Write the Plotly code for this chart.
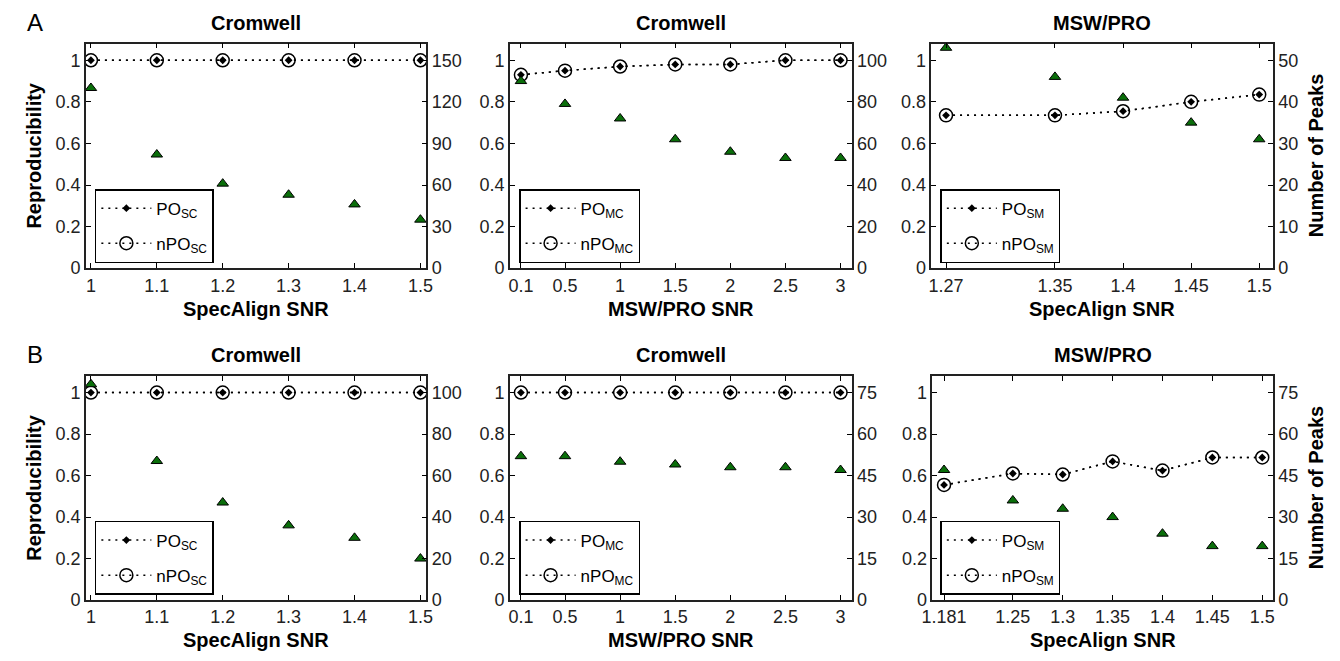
import plotly.graph_objects as go

# ---------------- data ----------------
A1_x = [1, 1.1, 1.2, 1.3, 1.4, 1.5]
A1_po = [1, 1, 1, 1, 1, 1]
A1_npo = [1, 1, 1, 1, 1, 1]
A1_peaks = [130, 82, 61, 53, 46, 35]

A2_x = [0.1, 0.5, 1, 1.5, 2, 2.5, 3]
A2_po = [0.93, 0.95, 0.97, 0.98, 0.98, 1.0, 1.0]
A2_npo = [0.93, 0.95, 0.97, 0.98, 0.98, 1.0, 1.0]
A2_peaks = [90, 79, 72, 62, 56, 53, 53]

A3_x = [1.27, 1.35, 1.4, 1.45, 1.5]
A3_po = [0.735, 0.735, 0.755, 0.80, 0.835]
A3_npo = [0.735, 0.735, 0.755, 0.80, 0.835]
A3_peaks = [53, 46, 41, 35, 31]

B1_x = [1, 1.1, 1.2, 1.3, 1.4, 1.5]
B1_po = [1, 1, 1, 1, 1, 1]
B1_npo = [1, 1, 1, 1, 1, 1]
B1_peaks = [104, 67, 47, 36, 30, 20]

B2_x = [0.1, 0.5, 1, 1.5, 2, 2.5, 3]
B2_po = [1, 1, 1, 1, 1, 1, 1]
B2_npo = [1, 1, 1, 1, 1, 1, 1]
B2_peaks = [52, 52, 50, 49, 48, 48, 47]

B3_x = [1.181, 1.25, 1.3, 1.35, 1.4, 1.45, 1.5]
B3_po = [0.555, 0.61, 0.605, 0.668, 0.624, 0.687, 0.687]
B3_npo = [0.555, 0.61, 0.605, 0.668, 0.624, 0.687, 0.687]
B3_peaks = [47, 36, 33, 30, 24, 19.5, 19.5]

A1_xticks = ["1", "1.1", "1.2", "1.3", "1.4", "1.5"]
A2_xticks = ["0.1", "0.5", "1", "1.5", "2", "2.5", "3"]
A3_xticks = ["1.27", "1.35", "1.4", "1.45", "1.5"]
B3_xticks = ["1.181", "1.25", "1.3", "1.35", "1.4", "1.45", "1.5"]

left_ticks = [0, 0.2, 0.4, 0.6, 0.8, 1]
left_ticktext = ["0", "0.2", "0.4", "0.6", "0.8", "1"]

right_A1 = [0, 30, 60, 90, 120, 150]
right_A2 = [0, 20, 40, 60, 80, 100]
right_A3 = [0, 10, 20, 30, 40, 50]
right_B1 = [0, 20, 40, 60, 80, 100]
right_B2 = [0, 15, 30, 45, 60, 75]
right_B3 = [0, 15, 30, 45, 60, 75]

titles = ["Cromwell", "Cromwell", "MSW/PRO", "Cromwell", "Cromwell", "MSW/PRO"]
xtitles = ["SpecAlign SNR", "MSW/PRO SNR", "SpecAlign SNR",
           "SpecAlign SNR", "MSW/PRO SNR", "SpecAlign SNR"]
subs = ["SC", "MC", "SM", "SC", "MC", "SM"]

panels = [
    (A1_x, A1_po, A1_npo, A1_peaks, A1_xticks, right_A1),
    (A2_x, A2_po, A2_npo, A2_peaks, A2_xticks, right_A2),
    (A3_x, A3_po, A3_npo, A3_peaks, A3_xticks, right_A3),
    (B1_x, B1_po, B1_npo, B1_peaks, A1_xticks, right_B1),
    (B2_x, B2_po, B2_npo, B2_peaks, A2_xticks, right_B2),
    (B3_x, B3_po, B3_npo, B3_peaks, B3_xticks, right_B3),
]

# ---------------- layout geometry ----------------
W, H = 1340, 661
xdom_px = [(76, 421), (505.7, 852), (933, 1279),
           (76, 421), (505.7, 852), (934, 1279)]
ydom_px = [(44.3, 272.3)] * 3 + [(381.7, 609.3)] * 3
xranges = [[0.9925, 1.509], [0.0, 3.1], [1.2593, 1.510],
           [0.9925, 1.509], [0.0, 3.1], [1.1694, 1.5106]]
legend_px = [(85, 192), (515, 192), (942, 192),
             (85, 529), (515, 529), (942, 529)]
YMAX = 1.08

FONT = "Liberation Sans, Arial, Helvetica, sans-serif"
DOT = "2px,5px"

fig = go.Figure()
layout = {}
annotations = []

for k, (xs, po, npo, peaks, xt, rt) in enumerate(panels):
    xa = "x" if k == 0 else f"x{k+1}"
    yl = "y" if k == 0 else f"y{2*k+1}"
    yr = f"y{2*k+2}"
    leg = "legend" if k == 0 else f"legend{k+1}"

    fig.add_trace(go.Scatter(
        x=xs, y=peaks, xaxis=xa, yaxis=yr, mode="markers",
        marker=dict(symbol="triangle-up", size=10, color="#0a6e0a",
                    line=dict(color="black", width=1)),
        showlegend=False, legend=leg))
    fig.add_trace(go.Scatter(
        x=xs, y=po, xaxis=xa, yaxis=yl, mode="lines+markers",
        name=f"PO<sub>{subs[k]}</sub>", legend=leg, legendgroup=f"po{k}",
        line=dict(color="black", width=1.5, dash=DOT),
        marker=dict(symbol="diamond", size=6, color="black")))
    fig.add_trace(go.Scatter(
        x=xs, y=npo, xaxis=xa, yaxis=yl, mode="lines+markers",
        name=f"nPO<sub>{subs[k]}</sub>", legend=leg, legendgroup=f"npo{k}",
        line=dict(color="black", width=1.5, dash=DOT),
        marker=dict(symbol="circle-open", size=13, color="black",
                    line=dict(width=1.5))))

    x0, x1 = xdom_px[k]
    t, b = ydom_px[k]
    xdom = [x0 / W, x1 / W]
    ydom = [1 - b / H, 1 - t / H]
    tickfont = dict(family=FONT, size=18, color="#222")

    layout["xaxis" if k == 0 else f"xaxis{k+1}"] = dict(
        domain=xdom, anchor=yl, range=xranges[k],
        tickvals=xs, ticktext=xt, ticks="inside", ticklen=5,
        tickcolor="black", tickwidth=1, showline=True, linecolor="#222",
        linewidth=1.5, mirror="ticks", showgrid=False, zeroline=False,
        tickfont=tickfont)
    layout["yaxis" if k == 0 else f"yaxis{2*k+1}"] = dict(
        domain=ydom, anchor=xa, range=[0, YMAX],
        tickvals=left_ticks, ticktext=left_ticktext, ticks="inside",
        ticklen=5, tickcolor="black", showline=True, linecolor="#222",
        linewidth=1.5, showgrid=False, zeroline=False, tickfont=tickfont)
    layout[f"yaxis{2*k+2}"] = dict(
        overlaying=yl, side="right", anchor=xa,
        range=[0, rt[-1] * YMAX], tickvals=rt,
        ticktext=[str(v) for v in rt], ticks="inside", ticklen=5,
        tickcolor="black", showline=True, linecolor="#222", linewidth=1.5,
        showgrid=False, zeroline=False, tickfont=tickfont)

    lx, ly = legend_px[k]
    layout[leg] = dict(
        x=lx / W, y=1 - ly / H, xanchor="left", yanchor="top",
        bgcolor="white", bordercolor="black", borderwidth=1.5,
        font=dict(family=FONT, size=17, color="black"),
        tracegroupgap=10, itemsizing="trace", itemwidth=50)

    # panel title
    cx = (x0 + x1) / 2 / W
    annotations.append(dict(
        text=f"<b>{titles[k]}</b>", x=cx, y=1 - (t - 21) / H,
        xref="paper", yref="paper", xanchor="center", yanchor="middle",
        showarrow=False, font=dict(family=FONT, size=20, color="black")))
    # x-axis title
    annotations.append(dict(
        text=f"<b>{xtitles[k]}</b>", x=cx, y=1 - (b + 41) / H,
        xref="paper", yref="paper", xanchor="center", yanchor="middle",
        showarrow=False, font=dict(family=FONT, size=20, color="black")))

# y titles
for (t, b) in [ydom_px[0], ydom_px[3]]:
    cy = 1 - ((t + b) / 2) / H
    annotations.append(dict(
        text="<b>Reproducibility</b>", x=23 / W, y=cy, xref="paper",
        yref="paper", xanchor="center", yanchor="middle", textangle=-90,
        showarrow=False, font=dict(family=FONT, size=20, color="black")))
    annotations.append(dict(
        text="<b>Number of Peaks</b>", x=1323 / W, y=cy, xref="paper",
        yref="paper", xanchor="center", yanchor="middle", textangle=-90,
        showarrow=False, font=dict(family=FONT, size=20, color="black")))

# panel letters
annotations.append(dict(text="A", x=14 / W, y=1 - 23 / H, xref="paper",
                        yref="paper", xanchor="left", yanchor="middle",
                        showarrow=False,
                        font=dict(family=FONT, size=24, color="black")))
annotations.append(dict(text="B", x=14 / W, y=1 - 360 / H, xref="paper",
                        yref="paper", xanchor="left", yanchor="middle",
                        showarrow=False,
                        font=dict(family=FONT, size=24, color="black")))

fig.update_layout(
    width=W, height=H, margin=dict(l=0, r=0, t=0, b=0),
    paper_bgcolor="white", plot_bgcolor="white",
    annotations=annotations, **layout)

fig.write_html("out.html")
